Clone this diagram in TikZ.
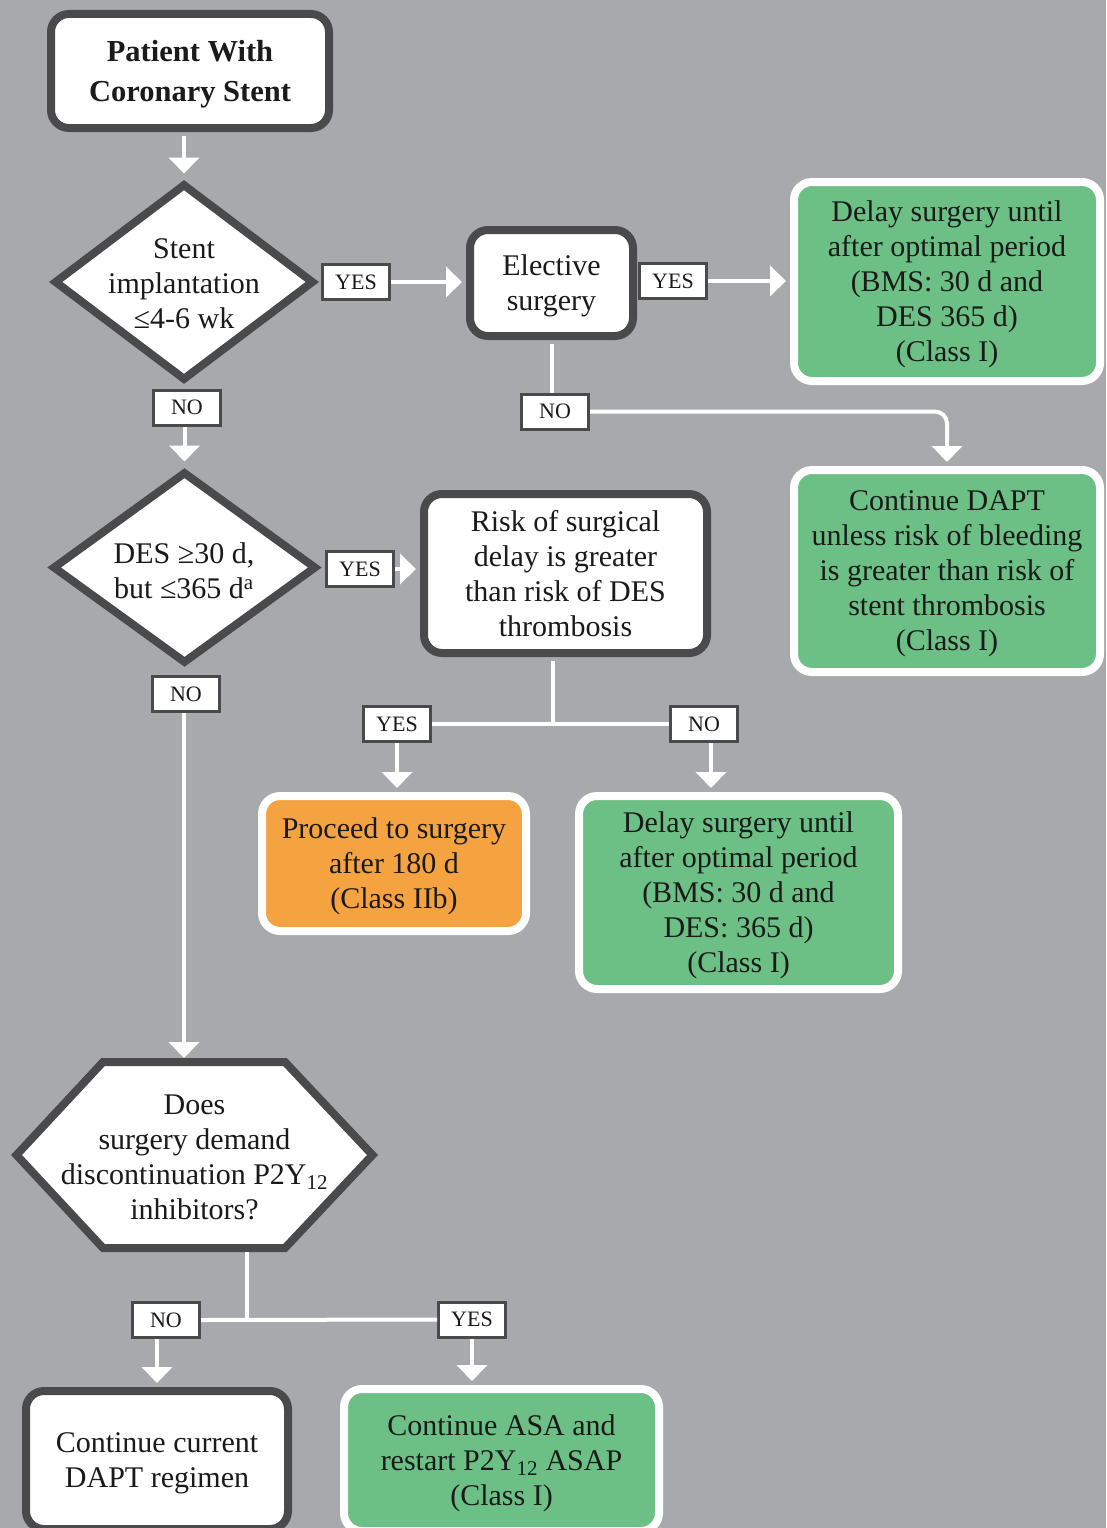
\documentclass[tikz,border=0pt]{standalone}
\usepackage{fontspec}
\setmainfont{Liberation Serif}
\usetikzlibrary{arrows.meta,shapes.geometric,calc}
\definecolor{bg}{HTML}{A8A9AC}
\definecolor{dk}{HTML}{4A4A4C}
\definecolor{gr}{HTML}{6CC086}
\definecolor{og}{HTML}{F5A341}
\definecolor{tx}{HTML}{1A1A1A}
\begin{document}
\begin{tikzpicture}[x=1pt,y=-1pt,
  txtstyle/.style={align=center, text=tx, inner sep=0pt, font=\fontsize{30}{35}\selectfont},
  boxbase/.style={txtstyle, line width=8pt, rounded corners=18pt, text depth=-3pt},
  wbox/.style={boxbase, draw=dk, fill=white},
  gbox/.style={boxbase, draw=white, fill=gr},
  obox/.style={boxbase, draw=white, fill=og},
  dia/.style={diamond, draw=dk, line width=8pt, fill=white, inner sep=0pt},
  lab/.style={draw=dk, line width=3pt, fill=white, minimum width=67pt, minimum height=35pt, inner sep=0pt, text=tx, font=\fontsize{22}{24}\selectfont},
  conn/.style={white, line width=4pt},
  arr/.style={conn, -{Triangle[width=30pt,length=16pt]}}
]
\useasboundingbox (0,0) rectangle (1106,1528);
\clip (0,0) rectangle (1106,1528);
\fill[bg] (0,0) rectangle (1106,1528);

% main boxes
\node[wbox, minimum width=278pt, minimum height=114pt, font=\bfseries\fontsize{30.5}{40}\selectfont] (start) at (190,71) {Patient With\\Coronary Stent};

\node[dia, minimum width=260pt, minimum height=197pt] (d1) at (184,282) {};
\node[txtstyle] (d1t) at (184,284) {Stent\\implantation\\≤4-6 wk};

\node[wbox, minimum width=163pt, minimum height=106pt] (el) at (551.5,283) {Elective\\surgery};

\node[gbox, minimum width=306pt, minimum height=199pt] (g1) at (947,281.5) {Delay surgery until\\after optimal period\\(BMS: 30 d and\\DES 365 d)\\(Class I)};

\node[gbox, minimum width=306pt, minimum height=202pt] (g2) at (947,571) {Continue DAPT\\unless risk of bleeding\\is greater than risk of\\stent thrombosis\\(Class I)};

\node[dia, minimum width=264pt, minimum height=192pt] (d2) at (184.5,567.5) {};
\node[txtstyle] (d2t) at (184,571) {DES ≥30 d,\\but ≤365 d\textsuperscript{a}};

\node[wbox, minimum width=283pt, minimum height=159pt] (risk) at (565.5,573.5) {Risk of surgical\\delay is greater\\than risk of DES\\thrombosis};

\node[obox, minimum width=264pt, minimum height=135pt] (orng) at (394,863.5) {Proceed to surgery\\after 180 d\\(Class IIb)};

\node[gbox, minimum width=319pt, minimum height=193pt] (g3) at (738.5,892.5) {Delay surgery until\\after optimal period\\(BMS: 30 d and\\DES: 365 d)\\(Class I)};

% hexagon
\draw[draw=dk, line width=8pt, fill=white] (103,1062) -- (285,1062) -- (372.5,1155) -- (285,1248) -- (103,1248) -- (16.5,1155) -- cycle;
\node[txtstyle] (hex) at (194.5,1157) {Does\\surgery demand\\discontinuation P2Y\textsubscript{12}\\inhibitors?};
\coordinate (hextop) at (184,1058);
\coordinate (hexbot) at (247,1252);

\node[wbox, minimum width=262pt, minimum height=138pt] (cur) at (157,1460) {Continue current\\DAPT regimen};
\node[gbox, minimum width=315pt, minimum height=142pt] (g4) at (501.5,1460) {Continue ASA and\\restart P2Y\textsubscript{12} ASAP\\(Class I)};

% labels
\node[lab] (yes1) at (356,282) {YES};
\node[lab] (yes2) at (673,281) {YES};
\node[lab] (no1) at (187,407.5) {NO};
\node[lab] (no2) at (555,411.5) {NO};
\node[lab] (yes3) at (360,569) {YES};
\node[lab] (no3) at (186,694) {NO};
\node[lab] (yes4) at (397,724) {YES};
\node[lab] (no4) at (704,724) {NO};
\node[lab] (no5) at (166,1320) {NO};
\node[lab] (yes5) at (472,1319.5) {YES};

\coordinate (rj) at (553,724);
\coordinate (hj) at (247,1320);

% connectors
\draw[arr, shorten <=4pt, shorten >=6pt] (start.south -| d1.north) -- (d1.north);
\draw[arr, shorten >=4pt] (yes1.east) -- (yes1.east -| el.west);
\draw[arr, shorten >=4pt] (yes2.east) -- (yes2.east -| g1.west);
\draw[conn, shorten <=4pt] (el.south) -- (el.south |- no2.north);
\draw[arr, rounded corners=12pt, shorten >=4pt] (no2.east) -| (g2.north);
\draw[arr, shorten >=6pt] (no1.south -| d2.north) -- (d2.north);
\draw[arr, shorten >=4pt] (yes3.east) -- (yes3.east -| risk.west);
\draw[conn, shorten <=4pt] (risk.south -| rj) -- (rj);
\draw[conn] (yes4.east) -- (no4.west);
\draw[arr, shorten >=4pt] (yes4.south) -- (yes4.south |- orng.north);
\draw[arr, shorten >=4pt] ($(no4.south)+(7,0)$) -- ($(no4.south |- g3.north)+(7,0)$);
\draw[arr] (no3.south -| hextop) -- (hextop);
\draw[conn] (hexbot) -- (hj);
\draw[conn] (no5.east) -- (yes5.west);
\draw[arr, shorten >=4pt] (no5.south -| cur.north) -- (cur.north);
\draw[arr, shorten >=4pt] (yes5.south) -- (yes5.south |- g4.north);
\end{tikzpicture}
\end{document}
